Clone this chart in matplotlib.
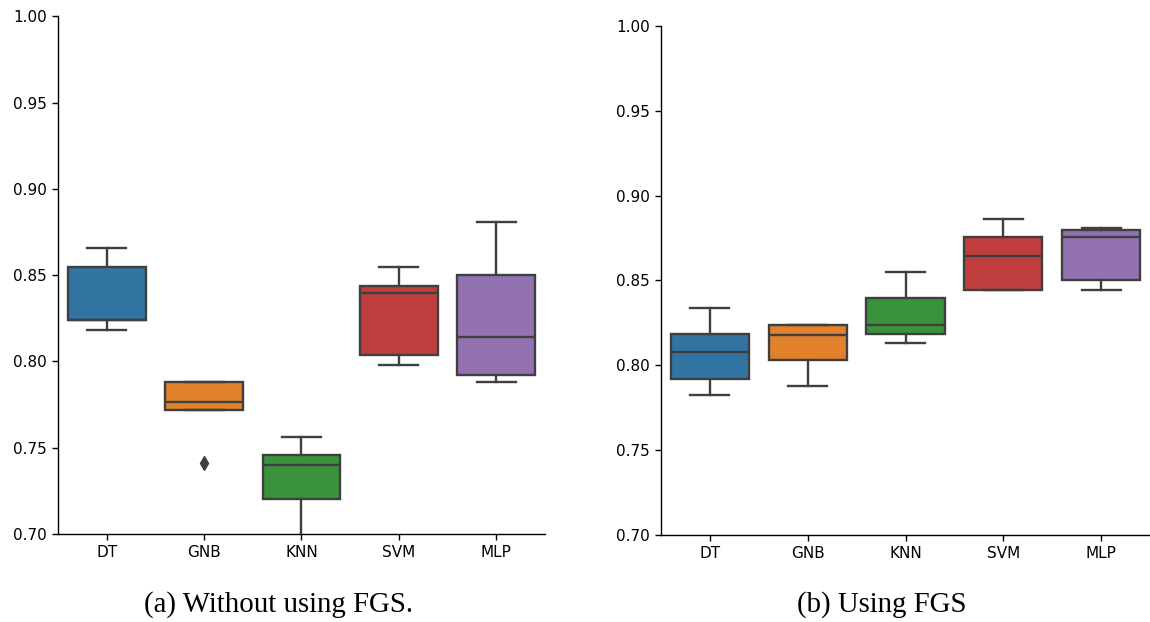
import matplotlib.pyplot as plt
import numpy as np

plt.rcParams["font.family"] = "DejaVu Sans"

# accuracy per classifier (box stats), without and with FGS
models = ["DT", "GNB", "KNN", "SVM", "MLP"]
colors = ["#3274a1", "#e1812c", "#3a923a", "#c03d3e", "#9372b2"]

wo_low = [0.818, 0.772, 0.690, 0.798, 0.788]
wo_q1 = [0.824, 0.772, 0.720, 0.8035, 0.792]
wo_med = [0.824, 0.7765, 0.740, 0.8395, 0.814]
wo_q3 = [0.855, 0.788, 0.746, 0.844, 0.850]
wo_high = [0.866, 0.788, 0.7565, 0.855, 0.881]
wo_fliers = [[], [0.741], [], [], []]

fgs_low = [0.7825, 0.7875, 0.813, 0.8445, 0.8445]
fgs_q1 = [0.792, 0.803, 0.8185, 0.8445, 0.850]
fgs_med = [0.808, 0.818, 0.824, 0.8645, 0.8755]
fgs_q3 = [0.8185, 0.824, 0.8395, 0.8755, 0.880]
fgs_high = [0.834, 0.824, 0.855, 0.886, 0.881]
fgs_fliers = [[], [], [], [], []]

GRAY = "#3f3f3f"
LW = 1.7


def make_stats(low, q1, med, q3, high, fliers):
    return [
        dict(label=m, whislo=lo, q1=a, med=b, q3=c, whishi=hi, fliers=f)
        for m, lo, a, b, c, hi, f in zip(models, low, q1, med, q3, high, fliers)
    ]


def draw_box(ax, stats):
    pos = np.arange(len(stats))
    bp = ax.bxp(
        stats,
        positions=pos,
        widths=0.8,
        patch_artist=True,
        capwidths=0.4,
        boxprops=dict(edgecolor=GRAY, linewidth=LW),
        medianprops=dict(color=GRAY, linewidth=LW),
        whiskerprops=dict(color=GRAY, linewidth=LW),
        capprops=dict(color=GRAY, linewidth=LW),
        flierprops=dict(marker="d", markerfacecolor=GRAY, markeredgecolor=GRAY,
                        markersize=7.5, linestyle="none"),
    )
    for patch, c in zip(bp["boxes"], colors):
        patch.set_facecolor(c)
    ax.set_xlim(-0.5, len(stats) - 0.5)
    ax.set_xticks(pos)
    ax.set_xticklabels(models)
    ax.set_ylim(0.70, 1.00)
    ticks = np.arange(0.70, 1.001, 0.05)
    ax.set_yticks(ticks)
    ax.set_yticklabels([f"{v:.2f}" for v in ticks])
    ax.tick_params(labelsize=11, length=4.5, width=1.0)
    for side in ["left", "bottom"]:
        ax.spines[side].set_linewidth(1.0)
    ax.spines["top"].set_visible(False)
    ax.spines["right"].set_visible(False)


fig = plt.figure(figsize=(11.5, 6.22), dpi=100)
ax1 = fig.add_axes([0.0504, 0.1415, 0.4235, 0.832])
ax2 = fig.add_axes([0.5748, 0.1400, 0.4252, 0.8182])

draw_box(ax1, make_stats(wo_low, wo_q1, wo_med, wo_q3, wo_high, wo_fliers))
draw_box(ax2, make_stats(fgs_low, fgs_q1, fgs_med, fgs_q3, fgs_high, fgs_fliers))

fig.text(0.242, 0.006, "(a) Without using FGS.", ha="center", va="bottom",
         family="Liberation Serif", fontsize=20.8)
fig.text(0.767, 0.006, "(b) Using FGS", ha="center", va="bottom",
         family="Liberation Serif", fontsize=20.8)

fig.savefig("out.png", dpi=100)
